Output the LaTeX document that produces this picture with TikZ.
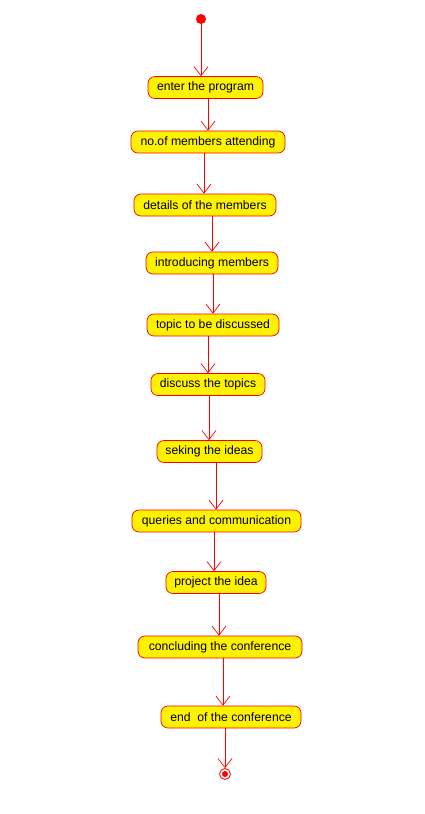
\documentclass[tikz,border=0pt]{standalone}
\usepackage{fontspec}
\setmainfont{Liberation Sans}
\usepackage{tikz}
\usetikzlibrary{arrows.meta, positioning}
\tikzstyle{flow} = [red, line width=0.7pt, -{Straight Barb[length=9pt, width=14pt, line width=0.7pt]}]

\begin{document}
\begin{tikzpicture}[
        x=1pt, y=-1pt,
        activity/.style={fill=yellow, draw=red, line width=0.7pt, rounded corners=7pt,
            minimum height=22pt, inner sep=0pt, font=\fontsize{12.2}{14}\selectfont},
        startdot/.style={circle, fill=red, inner sep=0pt, minimum size=10pt},
    ]
        \useasboundingbox (0,0) rectangle (425,814);

        \node[startdot] (start) at (201, 19) {};

        \node[activity, minimum width=115pt] (enter) at (205.5, 87.5) {enter the program};
        \node[activity, minimum width=154pt] (attend) at (208, 142) {no.of members attending};
        \node[activity, minimum width=142pt] (details) at (205, 205) {details of the members};
        \node[activity, minimum width=132pt] (intro) at (212, 263) {introducing members};
        \node[activity, minimum width=132pt] (topic) at (213, 325) {topic to be discussed};
        \node[activity, minimum width=114pt] (discuss) at (208, 384.5) {discuss the topics};
        \node[activity, minimum width=105pt] (ideas) at (209.5, 451.5) {seking the ideas};
        \node[activity, minimum width=169pt] (queries) at (216.5, 521) {queries and communication};
        \node[activity, minimum width=100pt] (project) at (216, 582.5) {project the idea};
        \node[activity, minimum width=164pt] (conclude) at (220, 647) {concluding the conference};
        \node[activity, minimum width=140pt] (close) at (231, 717) {end\ \ of the conference};

        % final state
        \node[circle, draw=red, line width=0.8pt, fill=white, inner sep=0pt, minimum size=11pt] (stop) at (225, 774) {};
        \fill[red] (stop.center) circle (3pt);

        \draw[flow] (start) -- ([xshift=-4.5pt]enter.north);
        \draw[flow] ([xshift=2.5pt]enter.south) -- (attend.north);
        \draw[flow] ([xshift=-4pt]attend.south) -- ([xshift=-1pt]details.north);
        \draw[flow] ([xshift=7pt]details.south) -- (intro.north);
        \draw[flow] ([xshift=1pt]intro.south) -- (topic.north);
        \draw[flow] ([xshift=-5pt]topic.south) -- (discuss.north);
        \draw[flow] ([xshift=1pt]discuss.south) -- ([xshift=-0.5pt]ideas.north);
        \draw[flow] ([xshift=6.5pt]ideas.south) -- ([xshift=-0.5pt]queries.north);
        \draw[flow] ([xshift=-2.5pt]queries.south) -- ([xshift=-2pt]project.north);
        \draw[flow] ([xshift=3pt]project.south) -- ([xshift=-1pt]conclude.north);
        \draw[flow] ([xshift=3pt]conclude.south) -- ([xshift=-8pt]close.north);
        \draw[flow] ([xshift=-6pt]close.south) -- (stop.north);
    \end{tikzpicture}
\end{document}
